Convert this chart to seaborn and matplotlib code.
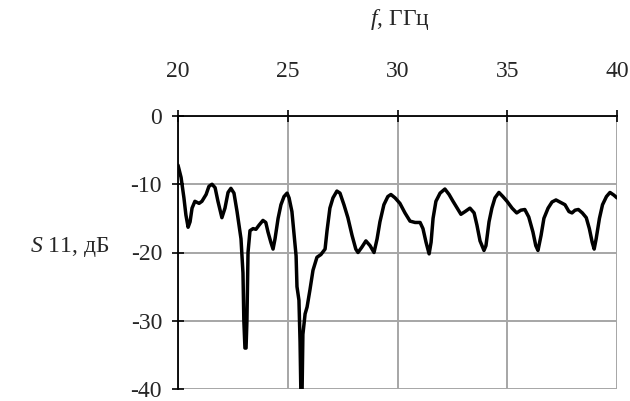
import matplotlib
matplotlib.use("Agg")
import matplotlib.pyplot as plt
import seaborn as sns
import pandas as pd

freq_ghz = [20.0, 20.14, 20.27, 20.36, 20.46, 20.55, 20.64, 20.77, 20.96, 21.09, 21.28, 21.41, 21.55,
            21.69, 21.82, 22.0, 22.14, 22.28, 22.41, 22.55, 22.69, 22.78, 22.87, 22.96, 23.0, 23.05,
            23.1, 23.14, 23.19, 23.28, 23.42, 23.55, 23.69, 23.87, 24.0, 24.1, 24.23, 24.33, 24.42,
            24.56, 24.69, 24.83, 24.97, 25.06, 25.19, 25.28, 25.38, 25.42, 25.51, 25.56, 25.6, 25.65,
            25.69, 25.79, 25.88, 26.01, 26.15, 26.33, 26.51, 26.7, 26.79, 26.92, 27.06, 27.24, 27.38,
            27.56, 27.74, 27.93, 28.1, 28.2, 28.38, 28.56, 28.75, 28.93, 29.07, 29.2, 29.38, 29.56,
            29.7, 29.89, 30.11, 30.34, 30.57, 30.8, 31.03, 31.16, 31.3, 31.44, 31.53, 31.62, 31.75,
            31.94, 32.16, 32.35, 32.53, 32.72, 32.89, 33.08, 33.3, 33.49, 33.62, 33.76, 33.94, 34.03,
            34.17, 34.3, 34.44, 34.62, 34.8, 34.99, 35.22, 35.43, 35.62, 35.8, 35.98, 36.17, 36.3,
            36.4, 36.54, 36.67, 36.86, 37.04, 37.22, 37.4, 37.63, 37.81, 37.95, 38.09, 38.24, 38.42,
            38.6, 38.74, 38.87, 38.96, 39.05, 39.2, 39.34, 39.52, 39.68, 39.86, 40.0]
s11_db = [-7.2, -9.0, -12.0, -14.5, -16.3, -15.5, -13.5, -12.5, -12.8, -12.5, -11.5, -10.3, -10.0,
          -10.5, -12.5, -14.9, -13.5, -11.2, -10.6, -11.3, -14.0, -16.0, -18.0, -23.0, -30.0, -34.0,
          -34.0, -30.0, -20.0, -16.8, -16.5, -16.6, -16.0, -15.3, -15.6, -17.0, -18.5, -19.5, -18.0,
          -15.0, -13.0, -11.8, -11.3, -12.0, -14.0, -17.0, -20.5, -25.0, -27.0, -33.0, -41.0, -41.0,
          -32.0, -29.0, -28.0, -25.5, -22.6, -20.7, -20.3, -19.5, -16.8, -13.5, -12.0, -11.0, -11.3,
          -13.0, -14.9, -17.5, -19.5, -20.0, -19.2, -18.3, -19.0, -20.0, -18.0, -15.5, -13.0, -11.8,
          -11.5, -12.0, -12.8, -14.2, -15.4, -15.6, -15.6, -16.5, -18.5, -20.2, -18.5, -15.0, -12.5,
          -11.3, -10.7, -11.5, -12.5, -13.5, -14.4, -14.0, -13.5, -14.2, -16.0, -18.3, -19.7, -19.0,
          -15.5, -13.5, -12.0, -11.2, -11.8, -12.5, -13.5, -14.2, -13.8, -13.7, -14.8, -17.0, -19.0,
          -19.7, -17.5, -15.0, -13.5, -12.6, -12.3, -12.6, -13.0, -14.0, -14.2, -13.8, -13.7, -14.2,
          -14.9, -16.5, -18.5, -19.5, -18.0, -15.0, -13.0, -11.8, -11.2, -11.6, -12.0]
x_ticks = [20, 25, 30, 35, 40]
y_ticks = [0, -10, -20, -30, -40]

sns.set_style("white")
plt.rcParams["font.family"] = ["Liberation Serif", "DejaVu Serif"]
plt.rcParams["mathtext.fontset"] = "custom"
plt.rcParams["mathtext.it"] = "Liberation Serif:italic"
plt.rcParams["mathtext.rm"] = "Liberation Serif"

df = pd.DataFrame({"f": freq_ghz, "s11": s11_db})

fig = plt.figure(figsize=(6.3, 4.01), dpi=100)
ax = fig.add_axes([178 / 630, 1 - 389 / 401, (617 - 178) / 630, (389 - 116) / 401])

sns.lineplot(data=df, x="f", y="s11", ax=ax, color="black", linewidth=2.5,
             estimator=None, sort=False, zorder=3)

ax.set_xlim(20, 40)
ax.set_ylim(-40, 0)
ax.set_xticks(x_ticks)
ax.set_yticks(y_ticks)
ax.set_xticklabels([str(v) for v in x_ticks])
ax.set_yticklabels([str(v) for v in y_ticks])

ax.grid(True, color="#a6a6a6", linewidth=1.4, zorder=1)
ax.set_axisbelow(True)

for side in ["right", "bottom"]:
    ax.spines[side].set_visible(False)
for side in ["top", "left"]:
    ax.spines[side].set_visible(True)
    ax.spines[side].set_color("black")
    ax.spines[side].set_linewidth(1.3)
    ax.spines[side].set_zorder(4)

ax.xaxis.tick_top()
ax.tick_params(axis="x", which="both", top=True, bottom=False, direction="inout",
               length=9, width=1.2, color="black", labelsize=17, pad=20)
ax.tick_params(axis="y", which="both", left=True, direction="inout",
               length=9, width=1.2, color="black", labelsize=17, pad=7)
ax.set_xlabel("")
ax.set_ylabel("")

fig.text(400 / 630, 1 - 20 / 401, r"$\it{f}$, ГГц", ha="center", va="center", fontsize=17)
fig.text(70 / 630, 1 - 247 / 401, r"$\it{S}$ 11, дБ", ha="center", va="center", fontsize=17)

fig.savefig("out.png", dpi=100)
